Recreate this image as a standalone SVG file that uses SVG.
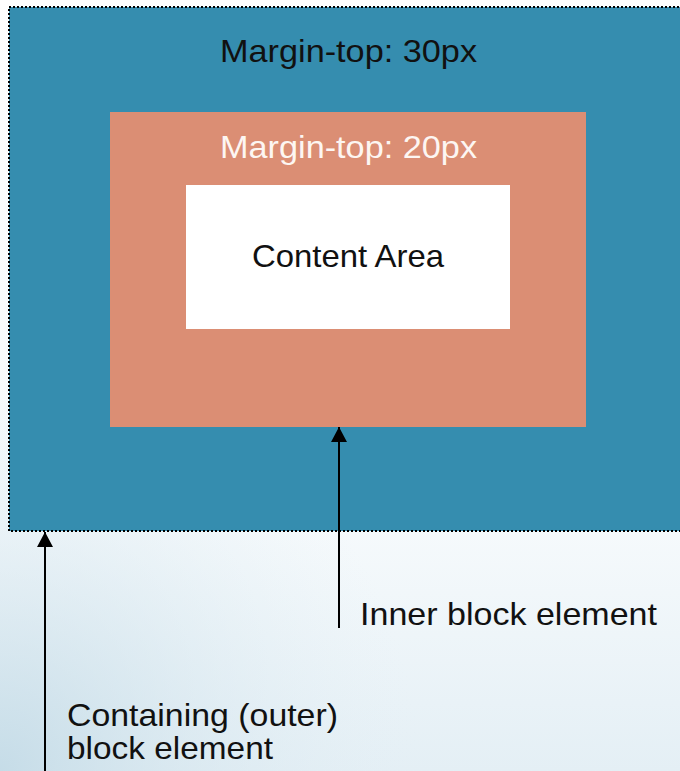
<svg xmlns="http://www.w3.org/2000/svg" width="680" height="771" viewBox="0 0 680 771">
  <defs>
    <linearGradient id="bg" x1="0" y1="0" x2="0" y2="1">
      <stop offset="0" stop-color="#ffffff"/>
      <stop offset="0.68" stop-color="#f6fafc"/>
      <stop offset="1" stop-color="#e4eff5"/>
    </linearGradient>
    <radialGradient id="glow" cx="0" cy="771" r="420" gradientUnits="userSpaceOnUse">
      <stop offset="0" stop-color="#c2dae6" stop-opacity="0.9"/>
      <stop offset="1" stop-color="#e4eff5" stop-opacity="0"/>
    </radialGradient>
    <marker id="arrow" viewBox="0 0 15 16" refX="15" refY="8" markerWidth="15" markerHeight="16" markerUnits="userSpaceOnUse" orient="auto">
      <path d="M0,0 L15,8 L0,16 Z" fill="#000"/>
    </marker>
    <style>
      .label { font-family: "Liberation Sans", Arial, sans-serif; font-size: 32px; }
      .dark { fill: #111111; }
      .light { fill: #fdf6f2; }
      .connector { stroke: #000; stroke-width: 2; fill: none; }
    </style>
  </defs>

  <!-- page background -->
  <rect x="0" y="0" width="680" height="771" fill="url(#bg)"/>
  <rect x="0" y="400" width="680" height="371" fill="url(#glow)"/>

  <!-- containing (outer) block -->
  <g id="outer-block">
    <rect x="9" y="7" width="690" height="524" fill="#358daf" stroke="#000" stroke-width="2" stroke-dasharray="2 2" shape-rendering="crispEdges"/>
    <text class="label dark" x="348.5" y="62" text-anchor="middle" font-size="33" textLength="257" lengthAdjust="spacingAndGlyphs">Margin-top: 30px</text>
  </g>

  <!-- inner block -->
  <g id="inner-block">
    <rect x="110" y="112" width="476" height="315" fill="#db8e74"/>
    <text class="label light" x="348.5" y="158" text-anchor="middle" font-size="33" textLength="257" lengthAdjust="spacingAndGlyphs">Margin-top: 20px</text>
  </g>

  <!-- content box -->
  <g id="content-area">
    <rect x="186" y="185" width="324" height="144" fill="#ffffff"/>
    <text class="label dark" x="348" y="267" text-anchor="middle" textLength="192" lengthAdjust="spacingAndGlyphs">Content Area</text>
  </g>

  <!-- connectors -->
  <g id="connectors">
    <line class="connector" x1="339" y1="628" x2="339" y2="427" marker-end="url(#arrow)"/>
    <line class="connector" x1="45" y1="771" x2="45" y2="532" marker-end="url(#arrow)"/>
  </g>

  <!-- annotations -->
  <g id="inner-label">
    <text class="label dark" x="360" y="625" textLength="297" lengthAdjust="spacingAndGlyphs">Inner block element</text>
  </g>
  <g id="outer-label">
    <text class="label dark" x="67" y="726" font-size="27" textLength="271" lengthAdjust="spacingAndGlyphs">Containing (outer)</text>
    <text class="label dark" x="67" y="759" font-size="27" textLength="206" lengthAdjust="spacingAndGlyphs">block element</text>
  </g>
</svg>
